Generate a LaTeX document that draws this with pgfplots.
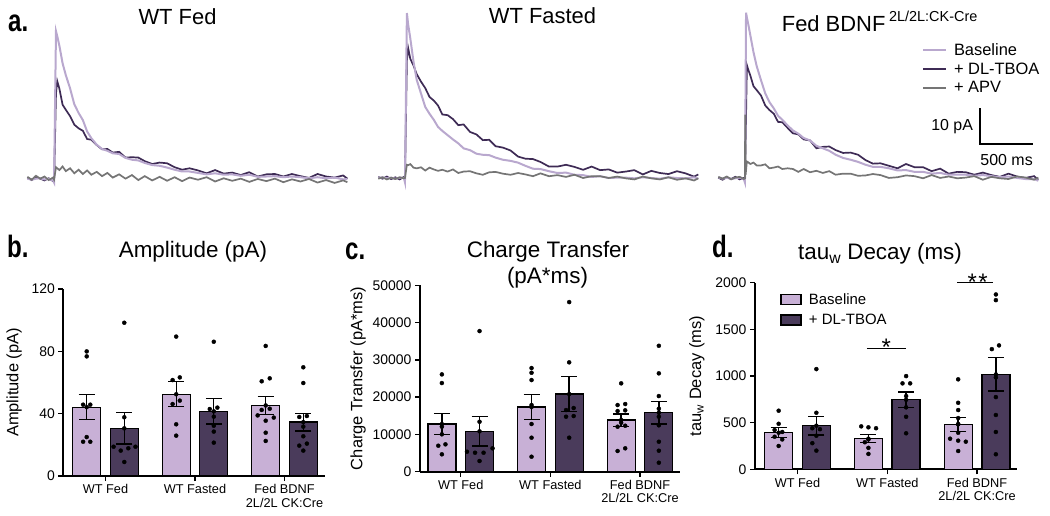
\documentclass[border=0pt]{standalone}
\usepackage{fontspec}
\setmainfont{Liberation Sans}
\usepackage{graphicx}
\usepackage{pgfplots}
\usepackage{pgfplotstable}
\pgfplotsset{compat=1.18}
\definecolor{lbar}{HTML}{C8B0D6}
\definecolor{dbar}{HTML}{4A3B5B}
\definecolor{ltr}{HTML}{B9A8CE}
\definecolor{dtr}{HTML}{3E2B55}
\definecolor{gtr}{HTML}{757575}

\pgfplotstableread{
t l1 d1 a1 l2 d2 a2 l3 d3 a3
0 0.1 0.4 0.6 0.0 0.3 -0.2 0.3 0.2 0.4
40 -0.2 -0.3 -0.2 0.2 -0.2 0.2 -0.1 -0.4 -0.1
80 0.1 0.5 0.9 -0.1 0.4 -0.4 0.2 0.3 0.5
120 0.2 0.1 0.1 0.1 -0.3 0.1 -0.2 -0.2 -0.3
160 -0.1 -0.4 0.7 -0.2 0.2 -0.3 0.0 0.4 0.2
200 0.0 0.2 -0.3 0.1 -0.4 0.2 0.2 -0.3 0.4
240 -0.4 -0.6 0.4 0.0 0.3 -0.1 -0.3 0.1 -0.2
250 -1.0 -0.7 -0.2 -1.2 -0.3 0.0 -1.2 -0.4 0.0
252 nan nan nan nan nan nan nan nan 17.8
256 nan nan nan nan nan nan nan nan 1.0
260 nan nan nan nan nan nan 46.4 nan nan
268 41.4 24.0 3.3 46.2 33.0 3.7 45.0 31.7 4.7
280 40.0 27.4 3.0 43.0 36.4 3.6 43.3 30.5 4.5
300 37.3 25.3 2.5 39.1 33.4 3.9 40.1 28.8 4.0
330 32.4 20.8 3.5 32.6 31.5 2.9 35.3 25.8 4.4
360 29.1 19.4 2.2 27.5 29.1 2.7 31.4 24.7 3.6
400 25.4 17.6 3.0 23.7 27.0 3.0 27.5 23.2 3.6
440 20.9 15.2 1.6 19.9 25.2 2.1 23.8 20.4 3.9
480 18.5 14.2 2.6 18.0 22.7 2.9 21.3 19.1 2.8
520 16.5 13.5 1.4 16.3 21.7 2.4 19.6 18.1 3.0
560 13.3 11.2 2.4 14.3 20.3 2.0 17.5 15.8 3.3
600 11.4 11.0 1.2 13.2 17.8 2.3 16.4 15.7 2.6
650 9.6 9.5 2.0 12.0 17.6 1.8 14.8 14.1 2.8
700 8.4 8.3 0.8 10.8 16.5 2.4 13.4 12.6 2.6
750 7.9 8.4 1.7 9.7 14.8 1.4 12.5 12.3 1.8
800 7.2 7.4 0.4 8.3 15.0 1.8 11.3 10.9 2.6
860 7.0 7.6 1.3 7.8 12.9 1.9 10.6 10.6 1.7
920 5.9 6.0 0.1 6.8 12.2 1.3 9.1 8.4 2.1
980 5.4 6.1 1.1 6.5 10.6 0.9 8.4 8.8 1.5
1040 5.2 6.0 -0.3 6.4 10.7 1.6 7.7 8.9 2.0
1100 4.5 5.0 0.8 5.7 8.9 1.7 6.6 7.9 1.0
1170 3.9 4.2 -0.4 5.1 8.5 1.2 5.7 7.1 1.3
1240 3.7 4.6 0.6 4.8 7.7 0.9 5.2 7.2 1.3
1310 3.2 4.4 -0.5 4.3 6.0 1.4 4.6 6.6 0.7
1380 2.6 3.3 0.5 3.4 5.4 1.0 3.8 5.1 0.8
1450 2.1 2.6 -0.6 2.6 5.3 0.5 3.2 4.1 1.2
1520 2.1 3.0 0.4 2.5 4.5 1.3 3.2 4.2 0.9
1600 1.7 2.4 -0.2 1.9 3.2 0.5 2.8 3.5 0.1
1680 1.3 1.6 0.5 1.4 3.2 0.8 2.2 2.8 0.3
1760 1.6 2.5 -0.7 1.5 3.7 0.3 2.3 4.0 0.8
1840 1.2 1.5 0.2 0.9 3.1 0.9 1.8 3.1 0.6
1920 1.3 1.8 -0.5 0.8 2.3 0.0 1.8 3.1 0.0
2000 0.9 1.1 0.1 0.3 3.2 0.5 1.3 2.0 0.9
2080 1.2 1.9 -0.8 0.5 2.2 0.5 1.5 2.7 0.1
2160 0.6 0.7 0.0 0.0 2.4 0.0 1.0 1.3 0.5
2240 0.7 1.3 -0.6 0.1 1.5 0.4 1.0 1.8 0.0
2320 0.8 1.4 0.1 0.1 1.8 -0.1 1.0 1.7 0.2
2400 0.5 0.7 -0.9 -0.1 2.2 -0.4 0.7 1.0 0.6
2480 0.7 1.4 -0.1 0.2 1.0 0.4 0.9 1.6 -0.4
2560 0.5 0.8 -0.7 0.0 2.0 -0.1 0.6 0.9 0.4
2640 0.2 0.3 0.0 -0.2 1.4 -0.4 0.3 0.4 0.0
2720 0.5 1.4 -1.0 0.2 1.1 0.2 0.5 1.3 -0.2
2800 0.2 0.7 -0.3 0.0 1.9 -0.5 0.1 0.5 0.5
2880 0.4 0.4 -1.1 -0.1 1.3 -0.1 -0.2 0.1 0.2
2960 -0.1 1.0 -0.4 0.2 0.4 -0.7 -0.2 0.6 -0.4
3000 0.0 0.1 -0.9 -0.2 1.0 -0.1 -0.7 -0.4 0.2
}\traces

\pgfplotsset{
 trace/.style={hide axis, scale only axis, width=320bp, height=196.35bp,
   xmin=0, xmax=3000, ymin=-5, ymax=50, clip=false, anchor=south west},
 ltrace/.style={ltr, line width=2bp, forget plot},
 dtrace/.style={dtr, line width=1.7bp, forget plot},
 gtrace/.style={gtr, line width=1.7bp, forget plot},
 barax/.style={scale only axis, anchor=south west,
   axis x line*=bottom, axis y line*=left,
   axis line style={line width=1.6bp, black},
   tick style={line width=1.4bp, black},
   tick align=outside, major tick length=5bp,
   xtick={1,2,3}, xticklabels={WT Fed, WT Fasted, {Fed BDNF\\2L/2L CK:Cre}},
   xticklabel style={align=center, font=\fontsize{12.8}{13.3}\selectfont},
   yticklabel style={font=\fontsize{14}{14}\selectfont},
   /pgf/number format/assume math mode=true,
   /pgf/number format/1000 sep={},
   scaled y ticks=false,
   ylabel style={font=\fontsize{16.5}{16.5}\selectfont, anchor=center},
   clip=false},
 bars/.style={ybar, bar width=28bp, bar shift=0pt, draw=black, line width=1.3bp},
 errs/.style={only marks, mark=none, forget plot, error bars/.cd, y dir=both, y explicit,
   error bar style={line width=1.4bp, black},
   error mark options={rotate=90, mark size=8bp, line width=1.4bp, black}},
 pts/.style={only marks, mark=*, mark size=2bp, black, forget plot},
}

\begin{document}
\begin{tikzpicture}[x=1bp,y=1bp]
\useasboundingbox (0bp,0bp) rectangle (1050bp,516bp);

% ---------- traces ----------
\begin{axis}[trace, at={(27.4bp,319.15bp)}]
\addplot[dtrace] table[x=t,y=d1] {\traces};
\addplot[ltrace] table[x=t,y=l1] {\traces};
\addplot[gtrace] table[x=t,y=a1] {\traces};
\end{axis}

\begin{axis}[trace, at={(378.3bp,320.15bp)}]
\addplot[dtrace] table[x=t,y=d2] {\traces};
\addplot[ltrace] table[x=t,y=l2] {\traces};
\addplot[gtrace] table[x=t,y=a2] {\traces};
\end{axis}

\begin{axis}[trace, at={(718.3bp,319.85bp)},
  legend style={at={(axis description cs:0.636,0.79)}, anchor=north west, draw=none, fill=none,
    font=\fontsize{16.5}{16.5}\selectfont, row sep=2bp, inner sep=0pt},
  legend cell align=left,
  legend image code/.code={\draw[#1] (0bp,0bp) -- (23bp,0bp); \path[draw=none,fill=none] (0bp,0bp) -- (29bp,0bp);}]
\addlegendimage{ltr, line width=2bp}\addlegendentry{Baseline}
\addlegendimage{dtr, line width=1.8bp}\addlegendentry{+ DL-TBOA}
\addlegendimage{gtr, line width=1.8bp}\addlegendentry{+ APV}
\addplot[dtrace] table[x=t,y=d3] {\traces};
\addplot[ltrace] table[x=t,y=l3] {\traces};
\addplot[gtrace] table[x=t,y=a3] {\traces};
\draw[line width=1.6bp] (axis cs:2453,19.6) -- (axis cs:2453,9.6) -- (axis cs:2953,9.6);
\node[anchor=east, font=\fontsize{16}{16}\selectfont] at (axis cs:2420,14.4) {10 pA};
\node[font=\fontsize{16}{16}\selectfont] at (axis cs:2703,5.1) {500 ms};
\end{axis}

\node[anchor=base, font=\fontsize{22}{22}\selectfont] at (177.5bp,491bp) {WT Fed};
\node[anchor=base, font=\fontsize{22}{22}\selectfont] at (542.5bp,492.7bp) {WT Fasted};
\node[anchor=base west, font=\fontsize{22}{22}\selectfont, inner sep=0pt] at (781.7bp,484.3bp) {Fed BDNF\,\raisebox{10bp}{\fontsize{14.5}{14.5}\selectfont 2L/2L:CK-Cre}};
\node[anchor=base west, inner sep=0pt, font=\fontsize{31}{31}\selectfont\bfseries] at (8bp,484bp) {\scalebox{0.78}[1]{a.}};

% ---------- b ----------
\begin{axis}[barax, at={(63.3bp,40bp)}, width=261.7bp, height=186.9bp,
  xmin=0.5285, xmax=3.4525, ymin=0, ymax=120, ytick={0,40,80,120},
  ylabel={Amplitude (pA)}, ylabel style={at={(axis description cs:-0.188,0.5)}}]
\addplot[bars, fill=lbar] coordinates {(0.79,44.2) (1.79,52.5) (2.79,45.3)};
\addplot[bars, fill=dbar] coordinates {(1.21,30.6) (2.21,41.5) (3.21,34.6)};
\addplot[errs] coordinates {(0.79,44.2) +- (0,8.1) (1.79,52.5) +- (0,8.05) (2.79,45.3) +- (0,5.8)
  (1.21,30.6) +- (0,10.1) (2.21,41.5) +- (0,8.15) (3.21,34.6) +- (0,5.65)};
\addplot[pts] coordinates {(0.79,80.0) (0.79,76.8) (0.75,45.8) (0.83,45.8) (0.79,25.0) (0.75,22.0) (0.83,22.0)
 (1.21,98.4) (1.21,37.7) (1.09,18.8) (1.17,16.3) (1.255,17.8) (1.335,18.8) (1.21,9.0)
 (1.79,89.5) (1.75,61.6) (1.83,63.3) (1.83,48.4) (1.75,46.2) (1.79,33.2) (1.79,25.9)
 (2.21,86.2) (2.165,43.0) (2.25,43.9) (2.21,38.1) (2.21,32.3) (2.21,28.5) (2.21,21.4)
 (2.79,83.5) (2.745,60.8) (2.835,62.7) (2.745,42.4) (2.835,43.2) (2.70,38.9) (2.88,37.5) (2.79,35.5) (2.79,27.8) (2.79,22.5)
 (3.21,69.8) (3.21,59.7) (3.165,37.9) (3.25,38.5) (3.21,31.7) (3.21,25.5) (3.165,19.5) (3.25,20.8) (3.21,16.3)};
\end{axis}

% ---------- c ----------
\begin{axis}[barax, at={(420bp,44.3bp)}, width=260bp, height=186.4bp,
  xmin=0.546, xmax=3.446, ymin=0, ymax=50000, ytick={0,10000,20000,30000,40000,50000},
  yticklabels={0,10000,20000,30000,40000,50000},
  ylabel={Charge Transfer (pA*ms)}, ylabel style={at={(axis description cs:-0.238,0.5)}}]
\addplot[bars, fill=lbar] coordinates {(0.79,12790) (1.79,17350) (2.79,13860)};
\addplot[bars, fill=dbar] coordinates {(1.21,10830) (2.21,20830) (3.21,15820)};
\addplot[errs] coordinates {(0.79,12790) +- (0,2820) (1.79,17350) +- (0,3350) (2.79,13860) +- (0,1665)
  (1.21,10830) +- (0,3980) (2.21,20830) +- (0,4650) (3.21,15820) +- (0,3030)};
\addplot[pts] coordinates {(0.79,26100) (0.79,23780) (0.79,12070) (0.79,10030) (0.75,6970) (0.83,7340) (0.79,4660)
 (1.21,37720) (1.21,13400) (1.07,5360) (1.16,5090) (1.255,5090) (1.355,6270) (1.21,2870)
 (1.79,27800) (1.79,26540) (1.79,24580) (1.79,17880) (1.79,12790) (1.79,9120) (1.79,4020)
 (2.21,45500) (2.21,29330) (2.175,16540) (2.26,17080) (2.175,14750) (2.26,14930) (2.21,9120)
 (2.79,23700) (2.75,17880) (2.835,18150) (2.75,16270) (2.835,16460) (2.79,13140) (2.75,12070) (2.835,12330) (2.75,5550) (2.835,6270)
 (3.21,33780) (3.21,26380) (3.21,20290) (3.21,16890) (3.21,14750) (3.21,12440) (3.21,8040) (3.21,5630) (3.21,2410)};
\end{axis}

% ---------- d ----------
\begin{axis}[barax, at={(755bp,46.7bp)}, width=261.7bp, height=186.6bp,
  xmin=0.5265, xmax=3.442, ymin=0, ymax=2000, ytick={0,500,1000,1500,2000},
  yticklabels={0,500,1000,1500,2000},
  ylabel={tau\textsubscript{w} Decay (ms)}, ylabel style={at={(axis description cs:-0.222,0.5)}},
  legend style={at={(axis description cs:0.096,0.955)}, anchor=north west, draw=none, fill=none,
    font=\fontsize{15}{15}\selectfont, row sep=4.5bp, inner sep=0pt},
  legend cell align=left,
  legend image code/.code={\draw[#1, line width=1.3bp] (0bp,-5bp) rectangle (20bp,5bp); \path[draw=none,fill=none] (0bp,0bp) -- (26bp,0bp);}]
\addplot[bars, fill=lbar] coordinates {(0.79,392) (1.79,328) (2.79,482)};
\addlegendentry{Baseline}
\addplot[bars, fill=dbar] coordinates {(1.21,467) (2.21,745) (3.21,1017)};
\addlegendentry{+ DL-TBOA}
\addplot[errs] coordinates {(0.79,392) +- (0,53.5) (1.79,328) +- (0,43) (2.79,482) +- (0,75)
  (1.21,467) +- (0,98) (2.21,745) +- (0,82) (3.21,1017) +- (0,178.5)};
\addplot[pts] coordinates {(0.79,628) (0.79,488) (0.745,421) (0.83,400) (0.745,349) (0.83,320) (0.79,250)
 (1.21,1074) (1.21,606) (1.165,440) (1.25,430) (1.21,360) (1.165,280) (1.21,200)
 (1.71,460) (1.79,450) (1.875,440) (1.79,320) (1.75,290) (1.79,230) (1.79,165)
 (2.21,999) (2.17,921) (2.255,921) (2.21,785) (2.21,664) (2.21,563) (2.21,386)
 (2.79,964) (2.79,713) (2.79,635) (2.79,549) (2.79,485) (2.79,392) (2.70,328) (2.79,307) (2.875,296) (2.79,196)
 (3.21,1874) (3.21,1813) (3.165,1288) (3.245,1328) (3.21,985) (3.21,774) (3.21,582) (3.21,400) (3.21,161)};
\draw[line width=1.5bp] (axis cs:1.772,1296) -- (axis cs:2.209,1296);
\draw[line width=1.5bp] (axis cs:2.777,2000) -- (axis cs:3.175,2000);
\node[anchor=base, inner sep=0pt, font=\fontsize{24}{24}\selectfont] at (axis cs:1.99,1219) {*};
\node[anchor=base, inner sep=0pt, font=\fontsize{24}{24}\selectfont] at (axis cs:3.006,1915) {*\kern1.5bp*};
\end{axis}

% ---------- titles and panel letters ----------
\node[anchor=base, font=\fontsize{22.5}{22.5}\selectfont] at (193bp,258bp) {Amplitude (pA)};
\node[anchor=base, font=\fontsize{22.5}{22.5}\selectfont] at (548bp,258.7bp) {Charge Transfer};
\node[anchor=base, font=\fontsize{22.5}{22.5}\selectfont] at (547.5bp,232.7bp) {(pA*ms)};
\node[anchor=base, font=\fontsize{22.5}{22.5}\selectfont] at (880bp,256bp) {tau\textsubscript{w} Decay (ms)};
\node[anchor=base west, inner sep=0pt, font=\fontsize{31}{31}\selectfont\bfseries] at (7bp,258bp) {\scalebox{0.78}[1]{b.}};
\node[anchor=base west, inner sep=0pt, font=\fontsize{31}{31}\selectfont\bfseries] at (345bp,256bp) {\scalebox{0.78}[1]{c.}};
\node[anchor=base west, inner sep=0pt, font=\fontsize{31}{31}\selectfont\bfseries] at (712bp,258bp) {\scalebox{0.78}[1]{d.}};
\end{tikzpicture}
\end{document}
